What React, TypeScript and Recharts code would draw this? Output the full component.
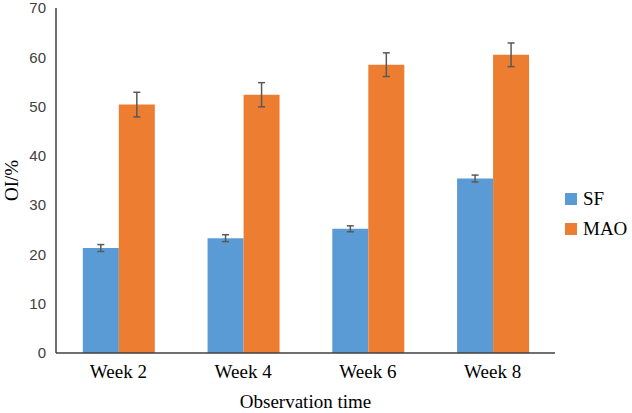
import { BarChart, Bar, XAxis, YAxis, Legend, ErrorBar } from "recharts"

const weeks = ["Week 2", "Week 4", "Week 6", "Week 8"]
const seriesNames = ["SF", "MAO"]
const sfValues = [21.3, 23.3, 25.2, 35.4]
const sfErrors = [0.7, 0.7, 0.6, 0.7]
const maoValues = [50.4, 52.4, 58.5, 60.5]
const maoErrors = [2.5, 2.45, 2.4, 2.4]
const yTicks = [0, 10, 20, 30, 40, 50, 60, 70]

const COLORS: Record<string, string> = { SF: "#5B9BD5", MAO: "#ED7D31" }
const SERIF = "'Liberation Serif', 'Times New Roman', serif"

const data = weeks.map((week, i) => ({
  week,
  SF: sfValues[i],
  sfErr: sfErrors[i],
  MAO: maoValues[i],
  maoErr: maoErrors[i],
}))

// keep legend in series order (recharts sorts by name otherwise)
function LegendBox() {
  return (
    <div style={{ fontFamily: SERIF, fontSize: 19, color: "#000" }}>
      {seriesNames.map((name) => (
        <div key={name} style={{ display: "flex", alignItems: "center", height: 30 }}>
          <span style={{ width: 12, height: 12, background: COLORS[name], marginRight: 6 }} />
          <span>{name}</span>
        </div>
      ))}
    </div>
  )
}

export default function App() {
  return (
    <div style={{ position: "absolute", left: 0, top: 0, width: 632, height: 413, background: "#fff" }}>
      <style>{"body{margin:0}"}</style>
      <BarChart
        width={632}
        height={413}
        data={data}
        margin={{ top: 8, right: 77, left: 0, bottom: 0 }}
        barCategoryGap="21.5%"
        barGap={0}
      >
        <XAxis
          dataKey="week"
          height={60}
          tickLine={false}
          tickMargin={6}
          axisLine={{ stroke: "#404040", strokeWidth: 1.5 }}
          tick={{ fontFamily: SERIF, fontSize: 19, fill: "#000" }}
          label={{
            value: "Observation time",
            position: "insideBottom",
            offset: 5,
            style: { fontFamily: SERIF, fontSize: 19, fill: "#000" },
          }}
        />
        <YAxis
          width={56}
          domain={[0, 70]}
          ticks={yTicks}
          interval={0}
          tickLine={false}
          tickMargin={4}
          axisLine={{ stroke: "#404040", strokeWidth: 1.5 }}
          tick={{ fontFamily: "'Liberation Sans', Arial, sans-serif", fontSize: 15, fill: "#404040" }}
          label={{
            value: "OI/%",
            angle: -90,
            position: "insideLeft",
            offset: 11,
            style: { fontFamily: SERIF, fontSize: 19, fill: "#000", textAnchor: "middle" },
          }}
        />
        <Legend
          layout="vertical"
          align="center"
          verticalAlign="middle"
          content={<LegendBox />}
          wrapperStyle={{ position: "absolute", left: 565, top: 184, width: "auto" }}
        />
        <Bar dataKey="SF" fill={COLORS.SF} isAnimationActive={false}>
          <ErrorBar dataKey="sfErr" width={3.5} stroke="#595959" strokeWidth={1.5} />
        </Bar>
        <Bar dataKey="MAO" fill={COLORS.MAO} isAnimationActive={false}>
          <ErrorBar dataKey="maoErr" width={3.5} stroke="#595959" strokeWidth={1.5} />
        </Bar>
      </BarChart>
    </div>
  )
}
